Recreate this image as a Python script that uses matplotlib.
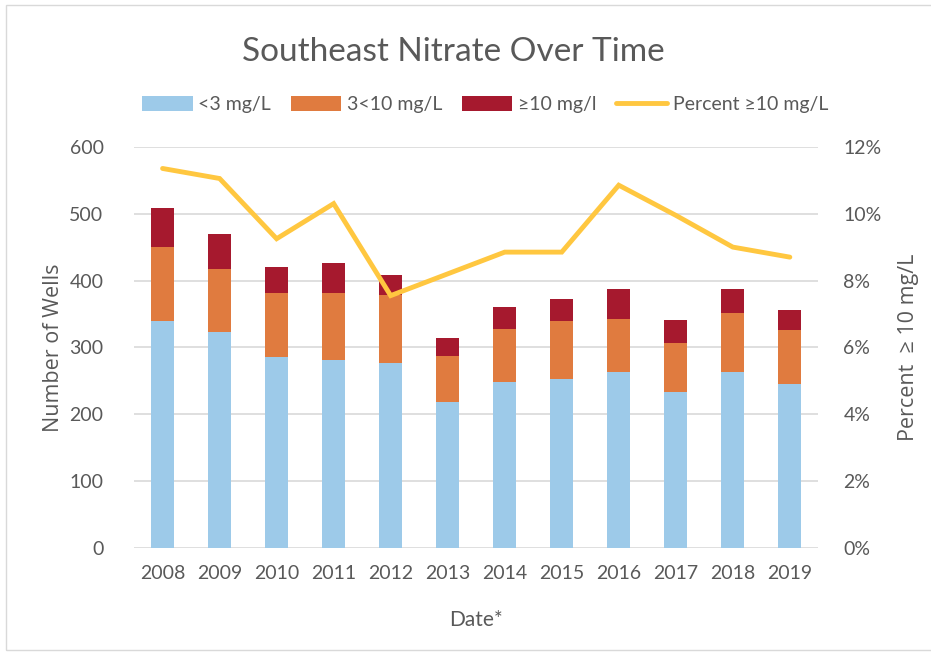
import numpy as np
import matplotlib.pyplot as plt
from matplotlib.patches import Rectangle
from matplotlib.ticker import FuncFormatter

years = ['2008', '2009', '2010', '2011', '2012', '2013',
         '2014', '2015', '2016', '2017', '2018', '2019']
under3 = [339, 323, 286, 282, 277, 218, 248, 253, 264, 233, 264, 246]
mid = [111, 94, 96, 100, 101, 70, 80, 86, 79, 73, 88, 80]
high = [58, 53, 38, 44, 31, 26, 33, 33, 44, 35, 35, 30]
pct = [11.35, 11.05, 9.25, 10.3, 7.55, 8.2, 8.85, 8.85, 10.85, 9.95, 9.0, 8.7]

c_blue = '#9DCAE9'
c_orange = '#E07B3F'
c_red = '#A6192E'
c_yellow = '#FFC740'
txt = '#595959'

plt.rcParams['font.family'] = ['Lato', 'DejaVu Sans']

fig = plt.figure(figsize=(9.31, 6.55), dpi=100)
ax = fig.add_axes([0.144, 0.163, 0.735, 0.613])
ax2 = ax.twinx()

x = np.arange(len(years))
w = 0.40
u = np.array(under3)
m = np.array(mid)
h = np.array(high)
b1 = ax.bar(x, u, w, color=c_blue, label='<3 mg/L', zorder=2)
b2 = ax.bar(x, m, w, bottom=u, color=c_orange, label='3<10 mg/L', zorder=2)
b3 = ax.bar(x, h, w, bottom=u + m, color=c_red, label='\u226510 mg/l', zorder=2)

ln, = ax2.plot(x, pct, color=c_yellow, lw=3.5, solid_capstyle='round',
               solid_joinstyle='miter', label='Percent \u226510 mg/L', zorder=3)

ax.set_xlim(-0.5, 11.5)
ax.set_ylim(0, 600)
ax.set_yticks(range(0, 601, 100))
ax2.set_ylim(0, 12)
ax2.set_yticks(range(0, 13, 2))
ax2.yaxis.set_major_formatter(FuncFormatter(lambda v, p: f'{v:.0f}%'))
ax.set_xticks(x)
ax.set_xticklabels(years)

ax.grid(axis='y', color='#D9D9D9', lw=1.2, zorder=0)
ax.set_axisbelow(True)
for a in (ax, ax2):
    for s in a.spines.values():
        s.set_visible(False)
    a.tick_params(length=0, labelsize=14, colors=txt)
ax.tick_params(axis='y', pad=22)
ax.tick_params(axis='x', pad=12)
ax2.tick_params(axis='y', pad=18)

ax.set_ylabel('Number of Wells', family='Open Sans', fontsize=15.5, color=txt, labelpad=4)
ax2.set_ylabel('Percent  \u2265 10 mg/L', family='Open Sans', fontsize=15.5, color=txt, labelpad=12)
ax.set_xlabel('Date*', fontsize=15, color=txt, labelpad=20)

fig.text(0.487, 0.921, 'Southeast Nitrate Over Time', ha='center', va='center',
         fontsize=24, color=txt)

fig.legend(handles=[b1, b2, b3, ln], loc='center', bbox_to_anchor=(0.521, 0.84),
           ncol=4, frameon=False, fontsize=14, handlelength=2.6, handleheight=0.8,
           columnspacing=1.0, handletextpad=0.3, labelcolor=txt)

fig.patches.append(Rectangle((0.006, 0.008), 1.2, 0.985, transform=fig.transFigure,
                             fill=False, edgecolor='#D9D9D9', lw=1))

fig.savefig('out.png', dpi=100)
